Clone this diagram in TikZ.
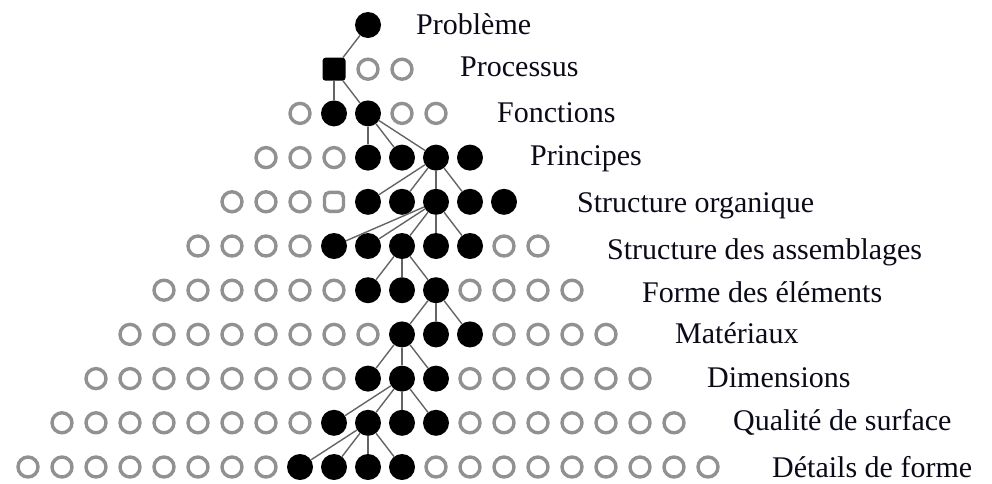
\documentclass[tikz,border=0pt]{standalone}
\usepackage{fontspec}
\setmainfont{Liberation Serif}
\definecolor{ringgray}{RGB}{145,145,145}
\definecolor{linkgray}{RGB}{100,100,100}
\definecolor{txt}{RGB}{10,10,25}
\begin{document}
\begin{tikzpicture}[x=1pt,y=-1pt,
  opendot/.style={circle, draw=ringgray, line width=3.4pt, minimum size=20pt, inner sep=0pt, fill=white},
  fulldot/.style={circle, fill=black, minimum size=26pt, inner sep=0pt},
  fullsq/.style={rectangle, rounded corners=3pt, fill=black, minimum size=23pt, inner sep=0pt},
  opensq/.style={rectangle, rounded corners=5pt, draw=ringgray, line width=3.4pt, minimum size=19pt, inner sep=0pt, fill=white},
  link/.style={draw=linkgray, line width=1.4pt},
  lbl/.style={anchor=base west, inner sep=0pt, font=\fontsize{30}{34}\selectfont, text=txt}]
\useasboundingbox (0,0) rectangle (992,483);
% dots: row / first filled column / last filled column
\foreach \r/\a/\b in {0/0/0,1/-1/-1,2/-1/0,3/0/3,4/0/4,5/-1/3,6/0/2,7/1/3,8/0/2,9/-1/2,10/-2/1}{
  \foreach \c in {-\r,...,\r}{
    \pgfmathtruncatemacro\k{\c+10}
    \pgfmathtruncatemacro\isfull{(\c>=\a)&&(\c<=\b)}
    \pgfmathtruncatemacro\issq{(\r==1)&&(\c==-1)}
    \pgfmathtruncatemacro\isosq{(\r==4)&&(\c==-1)}
    \ifnum\isfull=1 \def\sty{fulldot}\else\def\sty{opendot}\fi
    \ifnum\issq=1 \def\sty{fullsq}\fi
    \ifnum\isosq=1 \def\sty{opensq}\fi
    \node[\sty] (r\r k\k) at ({368+34*\c},{25+44.2*\r}) {};
  }
}
% connectors: row / from column (shifted by 10) / to column in next row
\foreach \r/\c/\t in {0/10/9, 1/9/9, 1/9/10, 2/10/10, 2/10/11, 2/10/12,
  3/12/10, 3/12/11, 3/12/12, 3/12/13,
  4/12/9, 4/12/10, 4/12/11, 4/12/12, 4/12/13,
  5/11/10, 5/11/11, 5/11/12,
  6/12/11, 6/12/12, 6/12/13,
  7/11/10, 7/11/11, 7/11/12,
  8/11/9, 8/11/10, 8/11/11, 8/11/12,
  9/10/8, 9/10/9, 9/10/10, 9/10/11}{
  \pgfmathtruncatemacro\rr{\r+1}
  \draw[link] (r\r k\c) -- (r\rr k\t);
}
% labels
\node[lbl] (l0) at (416,34) {Problème};
\node[lbl] (l1) at (460,76) {Processus};
\node[lbl] (l2) at (497,122) {Fonctions};
\node[lbl] (l3) at (530,165) {Principes};
\node[lbl] (l4) at (577,212) {Structure organique};
\node[lbl] (l5) at (607,259) {Structure des assemblages};
\node[lbl] (l6) at (642,302) {Forme des éléments};
\node[lbl] (l7) at (675,343) {Matériaux};
\node[lbl] (l8) at (707,387) {Dimensions};
\node[lbl] (l9) at (733,430) {Qualité de surface};
\node[lbl] (l10) at (772,477) {Détails de forme};
\end{tikzpicture}
\end{document}
